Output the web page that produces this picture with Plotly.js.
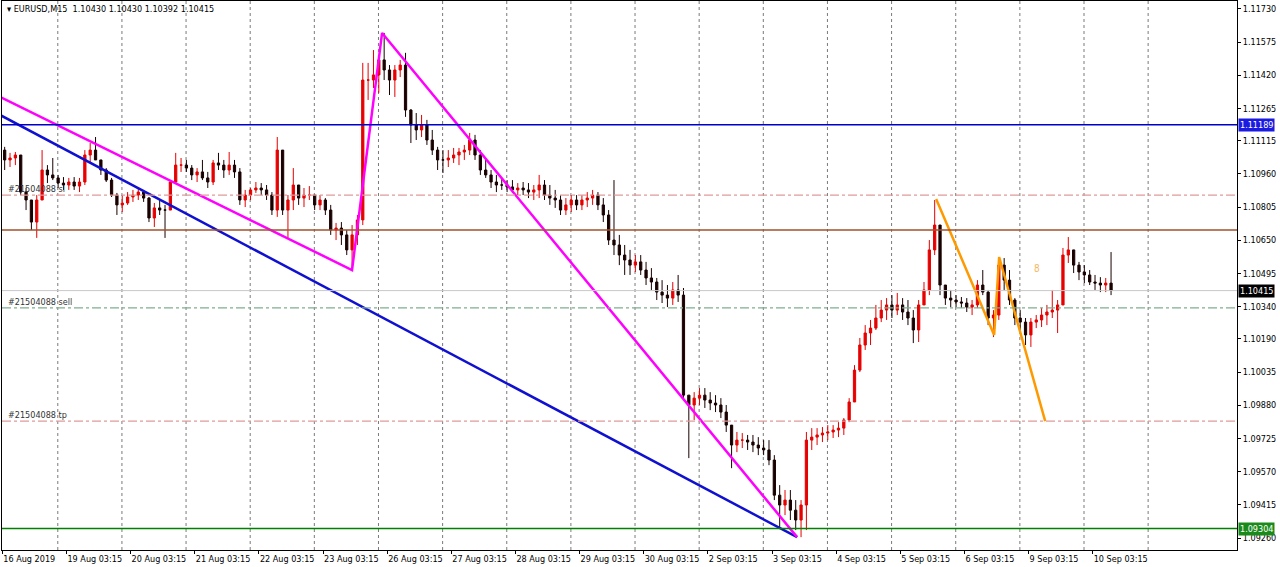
<!DOCTYPE html>
<html><head><meta charset="utf-8">
<script src="https://cdn.plot.ly/plotly-3.0.1.min.js"></script>
<style>html,body{margin:0;padding:0;background:#fff}#chart{width:1280px;height:567px}</style>
</head><body><div id="chart"></div>
<script>
// ---------- DATA ----------
const symbol = 'EURUSD,M15';
const lastBar = [1.10430, 1.10430, 1.10392, 1.10415]; // O H L C of the current M15 bar
const barsPerCandle = 8;   // each drawn candle = 2 hours of M15 bars
const firstOpen = 1.11071;

const closes = [
1.11025,1.11034,1.11048,1.10875,1.10838,1.10735,1.10838,1.10978,1.10955,1.10941,1.10917,1.10908,
1.10922,1.10903,1.10922,1.11048,1.11071,1.11025,1.10978,1.10931,1.10861,1.10815,1.10824,1.10852,
1.10861,1.10875,1.10847,1.10754,1.10801,1.10791,1.10791,1.10922,1.11001,1.11001,1.10987,1.10955,
1.10969,1.10941,1.10922,1.11011,1.11001,1.10978,1.11001,1.10969,1.10838,1.10861,1.10885,1.10894,
1.10885,1.10861,1.10791,1.11071,1.10791,1.10838,1.10908,1.10847,1.10861,1.10861,1.10815,1.10838,
1.10791,1.10698,1.10707,1.10675,1.10605,1.10675,1.10745,1.11398,1.11398,1.11422,1.11492,1.11445,
1.11398,1.11445,1.11468,1.11258,1.11188,1.11165,1.11188,1.11118,1.11071,1.11025,1.11025,1.11034,
1.11048,1.11062,1.11071,1.11118,1.11048,1.10978,1.10955,1.10922,1.10908,1.10908,1.10899,1.10885,
1.10894,1.10885,1.10875,1.10885,1.10908,1.10861,1.10847,1.10838,1.10791,1.10815,1.10838,1.10815,
1.10838,1.10847,1.10861,1.10815,1.10768,1.10651,1.10628,1.10581,1.10558,1.10534,1.10549,1.10511,
1.10474,1.10455,1.10408,1.10394,1.10380,1.10418,1.10394,1.09927,1.09881,1.09913,1.09927,1.09904,
1.09890,1.09881,1.09848,1.09787,1.09694,1.09717,1.09717,1.09708,1.09694,1.09680,1.09671,1.09624,
1.09460,1.09414,1.09437,1.09390,1.09344,1.09414,1.09717,1.09731,1.09741,1.09750,1.09755,1.09764,
1.09773,1.09811,1.09895,1.10044,1.10161,1.10217,1.10240,1.10287,1.10324,1.10348,1.10324,1.10348,
1.10315,1.10287,1.10231,1.10348,1.10418,1.10605,1.10721,1.10441,1.10380,1.10371,1.10362,1.10357,
1.10338,1.10348,1.10441,1.10408,1.10287,1.10301,1.10534,1.10464,1.10371,1.10287,1.10268,1.10208,
1.10268,1.10278,1.10301,1.10315,1.10324,1.10348,1.10581,1.10605,1.10534,1.10502,1.10488,1.10455,
1.10450,1.10441,1.10450,1.10415
];
const highs = [
1.11086,1.11058,1.11062,1.11048,1.10894,1.10838,1.10861,1.11071,1.11001,1.11034,1.10955,1.10945,
1.10941,1.10945,1.10941,1.11071,1.11104,1.11132,1.11025,1.10987,1.10941,1.10871,1.10861,1.10875,
1.10885,1.10894,1.10885,1.10852,1.10824,1.10838,1.10815,1.10931,1.11058,1.11034,1.11025,1.11001,
1.10987,1.11025,1.10969,1.11025,1.11058,1.11025,1.11062,1.11025,1.10987,1.10885,1.10894,1.10922,
1.10917,1.10908,1.10875,1.11132,1.11071,1.10861,1.10987,1.10908,1.10894,1.10903,1.10861,1.10861,
1.10847,1.10815,1.10731,1.10735,1.10698,1.10721,1.10768,1.11478,1.11478,1.11538,1.11515,1.11618,
1.11468,1.11468,1.11492,1.11525,1.11262,1.11244,1.11235,1.11212,1.11165,1.11086,1.11071,1.11071,
1.11081,1.11081,1.11095,1.11151,1.11142,1.11071,1.11025,1.10978,1.10955,1.10941,1.10931,1.10931,
1.10917,1.10922,1.10917,1.10908,1.10955,1.10931,1.10908,1.10885,1.10861,1.10847,1.10861,1.10861,
1.10861,1.10875,1.10885,1.10875,1.10847,1.10791,1.10931,1.10675,1.10628,1.10605,1.10581,1.10581,
1.10549,1.10520,1.10474,1.10464,1.10441,1.10455,1.10488,1.10427,1.09927,1.09941,1.09960,1.09960,
1.09941,1.09927,1.09913,1.09881,1.09787,1.09755,1.09750,1.09741,1.09741,1.09731,1.09717,1.09717,
1.09647,1.09507,1.09484,1.09484,1.09437,1.09437,1.09755,1.09773,1.09773,1.09778,1.09787,1.09787,
1.09801,1.09820,1.09913,1.10067,1.10194,1.10254,1.10278,1.10348,1.10371,1.10380,1.10394,1.10404,
1.10380,1.10371,1.10324,1.10371,1.10455,1.10651,1.10838,1.10721,1.10441,1.10418,1.10394,1.10385,
1.10380,1.10371,1.10464,1.10511,1.10418,1.10324,1.10572,1.10567,1.10511,1.10380,1.10324,1.10287,
1.10287,1.10301,1.10334,1.10348,1.10418,1.10371,1.10614,1.10665,1.10605,1.10549,1.10534,1.10511,
1.10488,1.10478,1.10474,1.10595
];
const lows = [
1.10978,1.10992,1.11001,1.10861,1.10791,1.10698,1.10661,1.10838,1.10917,1.10931,1.10894,1.10885,
1.10885,1.10885,1.10875,1.10908,1.11011,1.11025,1.10955,1.10922,1.10852,1.10768,1.10782,1.10815,
1.10829,1.10838,1.10829,1.10735,1.10712,1.10768,1.10661,1.10791,1.10917,1.10969,1.10969,1.10931,
1.10922,1.10931,1.10894,1.10908,1.10978,1.10941,1.10955,1.10941,1.10815,1.10805,1.10838,1.10871,
1.10861,1.10838,1.10768,1.10759,1.10768,1.10661,1.10791,1.10815,1.10805,1.10838,1.10791,1.10791,
1.10768,1.10675,1.10651,1.10628,1.10581,1.10511,1.10628,1.10721,1.11305,1.11361,1.11338,1.11398,
1.11328,1.11319,1.11412,1.11226,1.11104,1.11118,1.11132,1.11095,1.11048,1.10978,1.10964,1.10992,
1.11011,1.11001,1.11025,1.11048,1.11025,1.10955,1.10941,1.10894,1.10875,1.10885,1.10875,1.10871,
1.10861,1.10861,1.10847,1.10838,1.10847,1.10838,1.10815,1.10801,1.10768,1.10768,1.10782,1.10791,
1.10791,1.10805,1.10815,1.10791,1.10735,1.10628,1.10581,1.10534,1.10488,1.10488,1.10502,1.10488,
1.10441,1.10418,1.10371,1.10357,1.10338,1.10348,1.10362,1.09904,1.09633,1.09811,1.09881,1.09867,
1.09857,1.09848,1.09820,1.09755,1.09586,1.09661,1.09680,1.09671,1.09661,1.09647,1.09647,1.09600,
1.09437,1.09311,1.09367,1.09344,1.09297,1.09264,1.09297,1.09671,1.09694,1.09708,1.09717,1.09727,
1.09731,1.09741,1.09801,1.09895,1.10035,1.10138,1.10161,1.10231,1.10268,1.10278,1.10287,1.10301,
1.10278,1.10254,1.10170,1.10175,1.10348,1.10394,1.10581,1.10394,1.10348,1.10338,1.10338,1.10334,
1.10315,1.10301,1.10334,1.10394,1.10254,1.10198,1.10278,1.10418,1.10348,1.10254,1.10231,1.10161,
1.10152,1.10240,1.10245,1.10254,1.10287,1.10217,1.10348,1.10544,1.10497,1.10464,1.10450,1.10441,
1.10418,1.10408,1.10408,1.10394
];

// time axis (M15 bar index, bar 0 = 16 Aug 03:15)
const barsPerDay = 96;
const labelOffsetBars = 13;  // 00:00 -> 03:15
const dayLabels = ['16 Aug 2019','19 Aug 03:15','20 Aug 03:15','21 Aug 03:15','22 Aug 03:15','23 Aug 03:15',
  '26 Aug 03:15','27 Aug 03:15','28 Aug 03:15','29 Aug 03:15','30 Aug 03:15','2 Sep 03:15',
  '3 Sep 03:15','4 Sep 03:15','5 Sep 03:15','6 Sep 03:15','9 Sep 03:15','10 Sep 03:15'];
const gridDays = 18;

const priceTicks = [1.11730,1.11575,1.11420,1.11265,1.11115,1.10960,1.10805,1.10650,1.10495,
  1.10340,1.10190,1.10035,1.09880,1.09725,1.09570,1.09415,1.09260];

// horizontal levels
const resistanceLevel = 1.11189;
const brownLevel = 1.10698;
const supportLevel = 1.09304;
const currentPrice = 1.10415;
const orderId = '#21504088';
const orderLevels = [1.10861, 1.10334, 1.09806];
const orderTags = ['sl', 'sell', 'tp'];

// trend lines (bar index, price)
const blueTrendBars = [-3.5, 1189.6];
const blueTrendPrices = [1.11235, 1.09264];
const magentaBars = [-3.5, 523.4, 568.4, 1189.6];
const magentaPrices = [1.11319, 1.10511, 1.11618, 1.09264];
const orangeBars = [1397.7, 1484.5, 1492.0, 1560.9];
const orangePrices = [1.10843, 1.10208, 1.10572, 1.09806];
const waveLabel = {text: '8', bar: 1549, price: 1.10520};

// ---------- BUILD ----------
const xs = closes.map((_, i) => i * barsPerCandle + barsPerCandle / 2 - 0.5);
const opens = closes.map((c, i) => i === 0 ? firstOpen : closes[i - 1]);

const FONT = 'Tahoma, "DejaVu Sans Condensed", "Liberation Sans", sans-serif';

const traces = [
  {type: 'candlestick', x: xs, open: opens, high: highs, low: lows, close: closes,
   increasing: {line: {color: '#e60000', width: 1}, fillcolor: '#e60000'},
   decreasing: {line: {color: '#1a0000', width: 1}, fillcolor: '#1a0000'},
   whiskerwidth: 0, hoverinfo: 'skip', showlegend: false},
  {type: 'scatter', mode: 'lines', x: blueTrendBars, y: blueTrendPrices,
   line: {color: '#1010d0', width: 2.5}, hoverinfo: 'skip', showlegend: false},
  {type: 'scatter', mode: 'lines', x: magentaBars, y: magentaPrices,
   line: {color: '#ff00ff', width: 2.5}, hoverinfo: 'skip', showlegend: false},
  {type: 'scatter', mode: 'lines', x: orangeBars, y: orangePrices,
   line: {color: '#ff9900', width: 2.5}, hoverinfo: 'skip', showlegend: false}
];

const shapes = [];
for (let d = 1; d <= gridDays; d++) {
  const b = d * barsPerDay - labelOffsetBars;
  shapes.push({type: 'line', xref: 'x', yref: 'paper', x0: b, x1: b, y0: 0, y1: 1,
    line: {color: '#7a7a7a', width: 1, dash: 'dot'}, layer: 'below'});
}
function hline(y, color, width, dash) {
  shapes.push({type: 'line', xref: 'paper', yref: 'y', x0: 0, x1: 1, y0: y, y1: y,
    line: {color: color, width: width, dash: dash || 'solid'}});
}
hline(currentPrice, '#c8c8c8', 1);
hline(resistanceLevel, '#0000c8', 1.5);
hline(brownLevel, '#a0522d', 1.5);
hline(supportLevel, '#008000', 1.5);
hline(orderLevels[0], '#e09a9a', 1.2, 'dashdot');
hline(orderLevels[1], '#7fae8f', 1.2, 'dashdot');
hline(orderLevels[2], '#e09a9a', 1.2, 'dashdot');

const tickVals = dayLabels.map((_, d) => d * barsPerDay);

const annotations = [
  {xref: 'paper', yref: 'paper', x: 0, y: 1, xanchor: 'left', yanchor: 'top', xshift: 3, yshift: -1,
   showarrow: false, text: '▾ ' + symbol + '  ' + lastBar.map(v => v.toFixed(5)).join(' '),
   font: {family: FONT, size: 9, color: '#000'}},
  {xref: 'x', yref: 'y', x: waveLabel.bar, y: waveLabel.price, showarrow: false,
   text: waveLabel.text, font: {family: FONT, size: 10, color: '#f5b860'}}
];
orderLevels.forEach((lv, i) => {
  annotations.push({xref: 'paper', yref: 'y', x: 0, y: lv, xanchor: 'left', yanchor: 'bottom',
    xshift: 4, yshift: -1, showarrow: false, text: orderId + ' ' + orderTags[i],
    font: {family: FONT, size: 9, color: '#333'}});
});
function priceBox(v, bg) {
  annotations.push({xref: 'paper', yref: 'y', x: 1, y: v, xanchor: 'left', yanchor: 'middle',
    xshift: 1, showarrow: false, text: v.toFixed(5), bgcolor: bg, borderpad: 1,
    font: {family: FONT, size: 9, color: '#fff'}});
}
priceBox(resistanceLevel, '#1a1ae0');
priceBox(currentPrice, '#000000');
priceBox(supportLevel, '#1a8a1a');

const layout = {
  width: 1280, height: 567,
  margin: {l: 2, r: 43, t: 1, b: 17},
  paper_bgcolor: '#fff', plot_bgcolor: '#fff',
  showlegend: false, boxgap: 0.4,
  font: {family: FONT, size: 9, color: '#000'},
  xaxis: {range: [-0.5, 1848], rangeslider: {visible: false}, showgrid: false, zeroline: false,
    tickmode: 'array', tickvals: tickVals, ticktext: dayLabels,
    ticks: 'outside', ticklen: 3, tickcolor: '#000', ticklabelposition: 'outside right',
    showline: true, linecolor: '#000', linewidth: 1, mirror: true,
    tickfont: {family: FONT, size: 9, color: '#000'}, fixedrange: true},
  yaxis: {range: [1.09204, 1.11767], side: 'right', showgrid: false, zeroline: false,
    tickmode: 'array', tickvals: priceTicks, ticktext: priceTicks.map(v => v.toFixed(5)),
    ticks: 'outside', ticklen: 3, tickcolor: '#000',
    showline: true, linecolor: '#000', linewidth: 1, mirror: true,
    tickfont: {family: FONT, size: 9, color: '#000'}, fixedrange: true},
  shapes: shapes, annotations: annotations
};

Plotly.newPlot('chart', traces, layout, {displayModeBar: false, staticPlot: true});
</script></body></html>
